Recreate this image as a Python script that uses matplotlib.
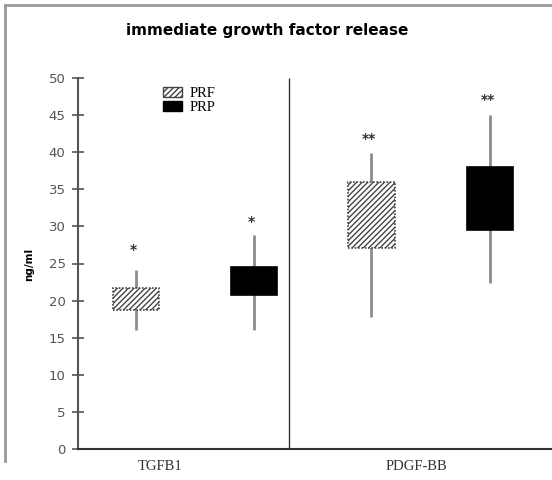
import matplotlib
matplotlib.use("Agg")
import matplotlib.pyplot as plt
from matplotlib.lines import Line2D
from matplotlib.patches import Patch

# ---- data ----
categories = ["TGFB1", "PDGF-BB"]
series = ["PRF", "PRP"]
# per box: TGFB1-PRF, TGFB1-PRP, PDGF-PRF, PDGF-PRP
box_pos = [0.275, 0.834, 1.393, 1.957]
q1 = [18.7, 20.8, 27.1, 29.5]
q3 = [21.7, 24.5, 36.0, 38.0]
whis_lo = [16.0, 16.0, 17.8, 22.4]
whis_hi = [24.1, 28.8, 39.9, 45.0]
sig_marks = ["*", "*", "**", "**"]
sig_y = [26.8, 30.6, 41.8, 47.0]
cat_label_pos = [0.39, 1.607]
yticks = [0, 5, 10, 15, 20, 25, 30, 35, 40, 45, 50]

plt.rcParams['hatch.color'] = '#8a8a8a'
plt.rcParams['hatch.linewidth'] = 1.0

fig = plt.figure(figsize=(5.52, 4.8), dpi=100)
W, H = 552, 480
ax = fig.add_axes([78 / W, (H - 449) / H, (W - 78) / W, (449 - 78) / H])

ax.set_xlim(0, 2.25)
ax.set_ylim(0, 50)

styles = [
    dict(facecolor="white", hatch="//////", edgecolor="#444444", linestyle=(0, (1, 1))),
    dict(facecolor="black", edgecolor="black"),
]
for i, x in enumerate(box_pos):
    ax.vlines(x, whis_lo[i], whis_hi[i], color="#8c8c8c", lw=2, zorder=1)
    st = styles[i % 2]
    ax.bar(x, q3[i] - q1[i], bottom=q1[i], width=0.22, linewidth=1.2, zorder=2, **st)
    ax.text(x - 0.01, sig_y[i], sig_marks[i], ha="center", va="center",
            fontsize=10, fontweight="bold", color="#333333", family="DejaVu Sans")

# divider
ax.vlines(1.0, 0, 50, color="#333333", lw=1.0)

# spines
for s in ["top", "right"]:
    ax.spines[s].set_visible(False)
ax.spines["left"].set_color("#555555")
ax.spines["left"].set_linewidth(1.5)
ax.spines["bottom"].set_color("#333333")
ax.spines["bottom"].set_linewidth(1.5)

ax.set_yticks(yticks)
ax.set_yticklabels([str(v) for v in yticks], family="DejaVu Sans", fontsize=9.5, color="#555555")
ax.tick_params(axis="y", direction="inout", length=8, width=1.2, color="#555555", pad=5)
ax.set_xticks(cat_label_pos)
ax.set_xticklabels(categories, family="Liberation Serif", fontsize=10.5, color="#333333")
ax.tick_params(axis="x", length=0, pad=8)

ax.set_ylabel("ng/ml", family="DejaVu Sans", fontsize=7.5, fontweight="bold")
ax.yaxis.set_label_coords((34 - 78) / (W - 78), (449 - 264) / (449 - 78))

# legend
handles = [
    Patch(facecolor="white", hatch="//////", edgecolor="#444444", label=series[0]),
    Patch(facecolor="black", edgecolor="black", label=series[1]),
]
leg = ax.legend(handles=handles, loc="upper left", bbox_to_anchor=(0.152, 1.011),
                frameon=False, prop=dict(family="Liberation Serif", size=10.5),
                handlelength=1.3, handleheight=0.7, labelspacing=0.05, handletextpad=0.5)

fig.text(267 / W, 1 - 30 / H, "immediate growth factor release", ha="center", va="center",
         fontsize=11, fontweight="bold", family="DejaVu Sans")

# outer frame (cropped)
fig.add_artist(Line2D([5 / W, 5 / W], [1 - 5 / H, 1 - 461 / H], color="#999999", lw=2))
fig.add_artist(Line2D([5 / W, 1.0], [1 - 5 / H, 1 - 5 / H], color="#999999", lw=2))

fig.savefig("out.png", dpi=100)
